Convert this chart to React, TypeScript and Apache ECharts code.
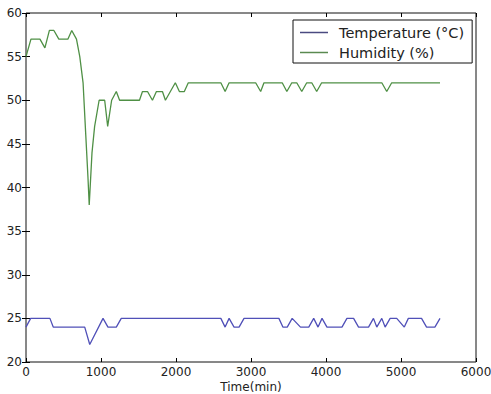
import React, { useEffect, useRef } from "react";
import * as echarts from "echarts";

const xTicks = [0, 1000, 2000, 3000, 4000, 5000, 6000];
const yTicks = [20, 25, 30, 35, 40, 45, 50, 55, 60];

const tempTimes = [0, 62, 319, 363, 783, 850, 1027, 1093, 1204, 1270, 2598, 2655, 2708, 2774, 2841, 2907, 3372, 3425, 3483, 3549, 3660, 3770, 3836, 3894, 3947, 4013, 4213, 4279, 4368, 4434, 4567, 4633, 4677, 4744, 4788, 4855, 4943, 5044, 5098, 5274, 5341, 5452, 5520];
const tempValues = [24, 25, 25, 24, 24, 22, 25, 24, 24, 25, 25, 24, 25, 24, 24, 25, 25, 24, 24, 25, 24, 24, 25, 24, 25, 24, 24, 25, 25, 24, 24, 25, 24, 25, 24, 25, 25, 24, 25, 25, 24, 24, 25];

const humTimes = [0, 66, 186, 252, 312, 372, 438, 558, 610, 673, 717, 761, 797, 827, 843, 880, 915, 975, 1049, 1089, 1142, 1204, 1248, 1513, 1553, 1620, 1686, 1739, 1819, 1859, 1991, 2045, 2111, 2164, 2598, 2655, 2708, 3062, 3129, 3173, 3416, 3478, 3544, 3610, 3677, 3743, 3810, 3876, 3942, 4744, 4810, 4876, 5520];
const humValues = [55, 57, 57, 56, 58, 58, 57, 57, 58, 57, 55, 52, 46, 41, 38, 44, 47, 50, 50, 47, 50, 51, 50, 50, 51, 51, 50, 51, 51, 50, 52, 51, 51, 52, 52, 51, 52, 52, 51, 52, 52, 51, 52, 52, 51, 52, 52, 51, 52, 52, 51, 52, 52];

const seriesNames = ["Temperature (°C)", "Humidity (%)"];
const FONT = "DejaVu Sans";

export default function App() {
  const ref = useRef<HTMLDivElement>(null);
  useEffect(() => {
    if (!ref.current) return;
    const chart = echarts.init(ref.current, null, { renderer: "svg" });
    const tempData = tempTimes.map((t, i) => [t, tempValues[i]]);
    const humData = humTimes.map((t, i) => [t, humValues[i]]);
    const xBase = {
      type: "value" as const,
      min: xTicks[0],
      max: xTicks[xTicks.length - 1],
      interval: 1000,
      splitLine: { show: false },
      axisLine: { show: false },
      axisTick: { show: true, inside: true, length: 4, lineStyle: { color: "#000", width: 1 } },
    };
    const yBase = {
      type: "value" as const,
      min: yTicks[0],
      max: yTicks[yTicks.length - 1],
      interval: 5,
      splitLine: { show: false },
      axisLine: { show: false },
      axisTick: { show: true, inside: true, length: 4, lineStyle: { color: "#000", width: 1 } },
    };
    chart.setOption({
      animation: false,
      backgroundColor: "#fff",
      grid: {
        left: 26,
        right: 15,
        top: 13,
        bottom: 32,
        show: true,
        borderColor: "#111",
        borderWidth: 1,
        backgroundColor: "#fff",
        containLabel: false,
        outerBoundsMode: "none",
      },
      legend: {
        data: seriesNames,
        orient: "vertical",
        left: 293,
        top: 20,
        icon: "rect",
        itemWidth: 28,
        itemHeight: 1.5,
        itemGap: 5,
        padding: [5, 8, 3, 7],
        borderColor: "#111",
        borderWidth: 1,
        borderRadius: 0,
        backgroundColor: "#fff",
        textStyle: { fontFamily: FONT, fontSize: 14.5, color: "#222", padding: [0, 0, 0, 6] },
      },
      xAxis: [
        {
          ...xBase,
          position: "bottom",
          name: "Time(min)",
          nameLocation: "middle",
          nameGap: 19,
          nameMoveOverlap: false,
          nameTextStyle: { fontFamily: FONT, fontSize: 12, color: "#222", lineHeight: 12 },
          axisLabel: {
            fontFamily: FONT,
            fontSize: 12,
            color: "#222",
            margin: 4,
            formatter: (v: number) => String(v),
          },
        },
        { ...xBase, position: "top", axisLabel: { show: false } },
      ],
      yAxis: [
        {
          ...yBase,
          position: "left",
          axisLabel: {
            fontFamily: FONT,
            fontSize: 12,
            color: "#222",
            margin: 4,
            formatter: (v: number) => String(v),
          },
        },
        { ...yBase, position: "right", axisLabel: { show: false } },
      ],
      series: [
        {
          name: seriesNames[0],
          type: "line",
          data: tempData,
          symbol: "none",
          lineStyle: { color: "#5050b8", width: 1.3 },
          itemStyle: { color: "#4a4a80" },
        },
        {
          name: seriesNames[1],
          type: "line",
          data: humData,
          symbol: "none",
          lineStyle: { color: "#4f9045", width: 1.3 },
          itemStyle: { color: "#5a8a50" },
        },
      ],
    });
    return () => chart.dispose();
  }, []);
  return (
    <div
      ref={ref}
      style={{ position: "fixed", left: 0, top: 0, width: 491, height: 394 }}
    />
  );
}
